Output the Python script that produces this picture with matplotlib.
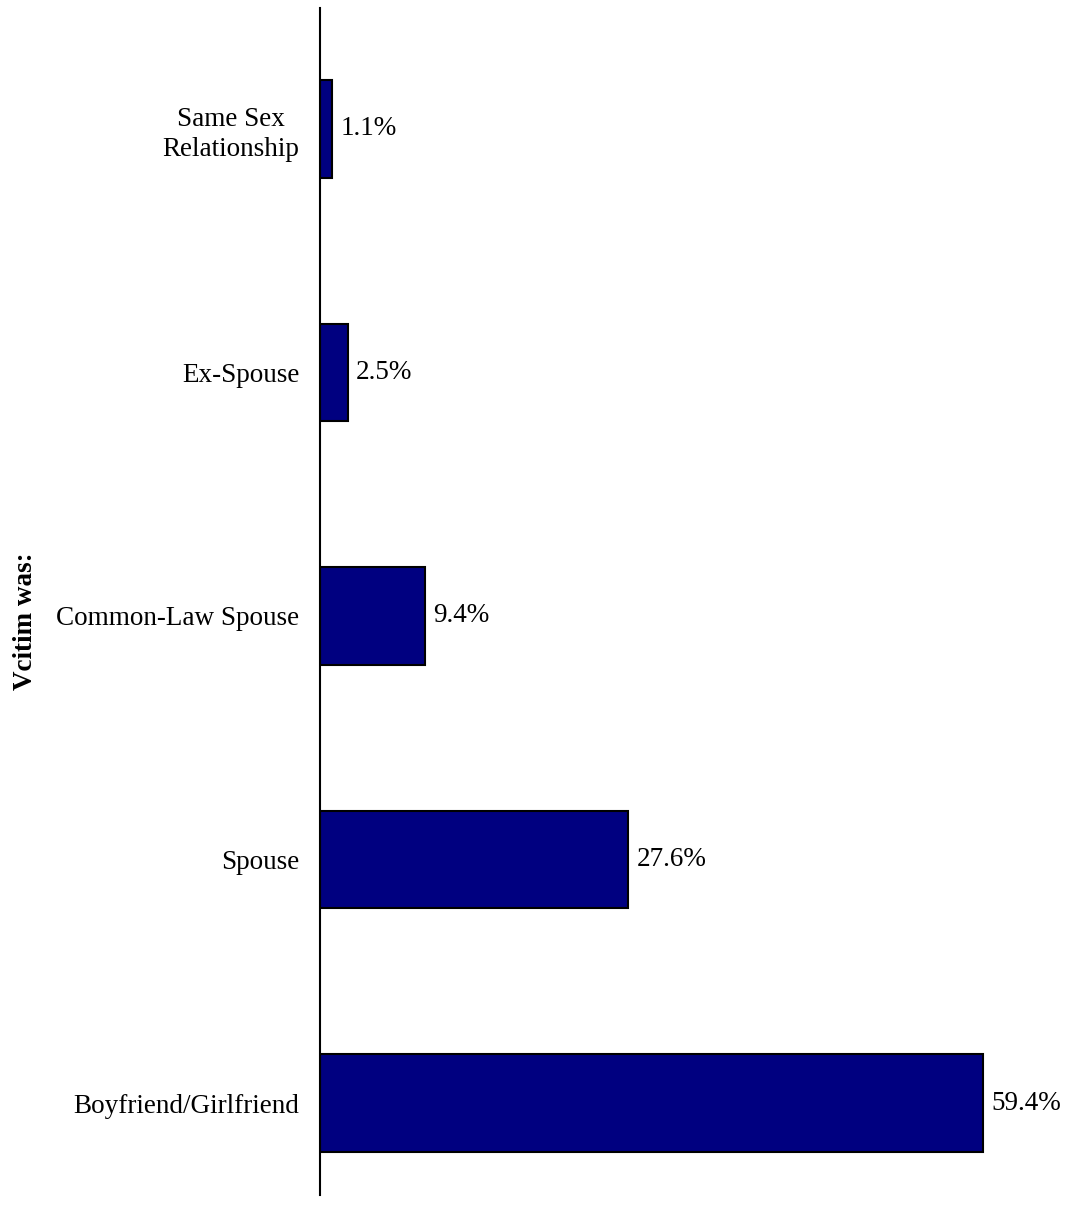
import matplotlib.pyplot as plt
import numpy as np

categories = ["Boyfriend/Girlfriend", "Spouse", "Common-Law Spouse",
              "Ex-Spouse", "Same Sex\nRelationship"]
values = [59.4, 27.6, 9.4, 2.5, 1.1]
value_labels = ["59.4%", "27.6%", "9.4%", "2.5%", "1.1%"]

plt.rcParams["font.family"] = ["Liberation Serif", "DejaVu Serif"]

W, H = 1069, 1222
fig = plt.figure(figsize=(W / 100, H / 100), dpi=100)
ax_left, ax_right = 320, 1056
ax_top, ax_bottom = 8, 1195
ax = fig.add_axes([ax_left / W, 1 - ax_bottom / H,
                   (ax_right - ax_left) / W, (ax_bottom - ax_top) / H])

y = np.arange(len(categories))
rects = ax.barh(y, values, height=0.4, color="#000080",
                edgecolor="black", linewidth=1.5)
ax.bar_label(rects, labels=value_labels, padding=6, fontsize=19.5)

ax.set_xlim(0, 65.95)
ax.set_ylim(-0.377, 4.496)
ax.set_yticks(y)
ax.set_yticklabels(categories, fontsize=19.5, multialignment="center",
                   linespacing=1.25)
ax.tick_params(axis="y", length=0, pad=15)
ax.set_xticks([])

for side in ["top", "right", "bottom"]:
    ax.spines[side].set_visible(False)
ax.spines["left"].set_linewidth(1.5)

ax.set_ylabel("Vcitim was:", fontsize=19.5, fontweight="bold")
ax.yaxis.set_label_coords((38 - ax_left) / (ax_right - ax_left),
                          (ax_bottom - 621) / (ax_bottom - ax_top))

fig.savefig("out.png", dpi=100)
